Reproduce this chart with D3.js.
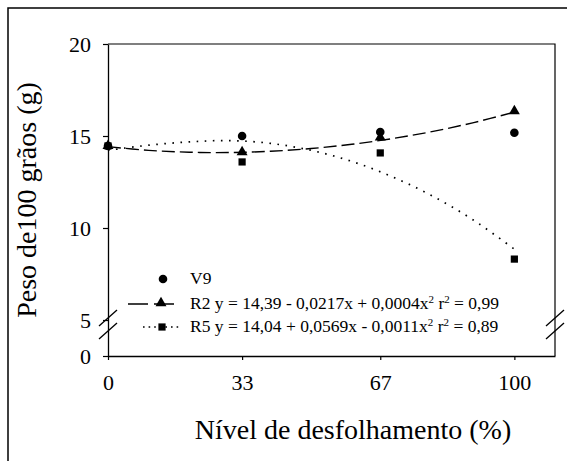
<!DOCTYPE html>
<html><head><meta charset="utf-8">
<script src="https://cdn.jsdelivr.net/npm/d3@7"></script>
</head><body style="margin:0">
<svg id="c" width="567" height="461" font-family="Liberation Serif" style="font-family:'Liberation Serif'"></svg>
<script>
// Data
const xLevels = [0, 33, 67, 100];
const v9 = [14.46, 15.0, 15.22, 15.18];
const r2 = [14.46, 14.13, 14.93, 16.36];
const r5 = [14.46, 13.59, 14.08, 8.31];
const fitX = [0, 10, 20, 30, 40, 50, 60, 70, 80, 90, 100];
const r2Fit = [14.42, 14.22, 14.12, 14.10, 14.17, 14.32, 14.55, 14.86, 15.25, 15.73, 16.30];
const r5Fit = [14.22, 14.50, 14.68, 14.75, 14.60, 14.22, 13.62, 12.78, 11.72, 10.42, 8.85];
const xTicks = [0, 33, 67, 100];
const yTicks = [0, 5, 10, 15, 20];
const legendLabels = ["V9", "R2", "R5"];

const SERIF = "Liberation Serif";
const svg = d3.select("#c");
function ft(sel, size) {
  return sel.attr("font-family", SERIF).style("font-family", SERIF)
    .attr("font-size", size).style("font-size", size + "px").attr("fill", "#000");
}
// outer frame
svg.append("rect").attr("x", 8).attr("y", 8).attr("width", 600).attr("height", 500)
  .attr("fill", "none").attr("stroke", "#000").attr("stroke-width", 1.5);

const x = d3.scaleLinear().domain([0, 110]).range([108, 555]);
const y = d3.scaleLinear().domain([0, 5, 20]).range([356, 320, 44]);

// plot frame (top and right)
svg.append("path").attr("d", `M${x(0)},${y(20)}H${x(110)}V${y(0)}`)
  .attr("fill", "none").attr("stroke", "#000").attr("stroke-width", 1.2);

// axes
const xa = svg.append("g").attr("transform", `translate(0,${y(0)})`)
  .call(d3.axisBottom(x).tickValues(xTicks).tickSize(4).tickSizeOuter(0).tickPadding(14));
const ya = svg.append("g").attr("transform", `translate(${x(0)},0)`)
  .call(d3.axisLeft(y).tickValues(yTicks).tickSize(5).tickSizeOuter(0).tickPadding(12));
[xa, ya].forEach(g => {
  g.attr("font-family", SERIF).attr("font-size", 22);
  g.select(".domain").attr("stroke", "#000").attr("stroke-width", 1.3);
  g.selectAll(".tick line").attr("stroke", "#000").attr("stroke-width", 1.2);
  ft(g.selectAll("text"), 22);
});
xa.selectAll("text").attr("dy", "0.71em");
ya.selectAll("text").attr("dy", "0.34em");

// break marks
function brk(cx) {
  [318, 331].forEach(cy => {
    svg.append("line").attr("x1", cx - 9).attr("y1", cy + 8).attr("x2", cx + 9).attr("y2", cy - 8)
      .attr("stroke", "#000").attr("stroke-width", 1.3);
  });
}
brk(x(0)); brk(x(110));

// fit curves
const line = d3.line().x(d => x(d[0])).y(d => y(d[1])).curve(d3.curveCatmullRom);
svg.append("path").attr("d", line(fitX.map((v, i) => [v, r2Fit[i]])))
  .attr("fill", "none").attr("stroke", "#000").attr("stroke-width", 1.4).attr("stroke-dasharray", "13,5");
svg.append("path").attr("d", line(fitX.map((v, i) => [v, r5Fit[i]])))
  .attr("fill", "none").attr("stroke", "#000").attr("stroke-width", 1.7).attr("stroke-dasharray", "1.6,6.5");

// markers
const sq = d3.symbol().type(d3.symbolSquare).size(52);
const tri = d3.symbol().type(d3.symbolTriangle).size(52);
svg.selectAll(".sq").data(xLevels.map((v, i) => [v, r5[i]])).join("path")
  .attr("d", sq).attr("transform", d => `translate(${x(d[0])},${y(d[1])})`).attr("fill", "#000");
svg.selectAll(".tri").data(xLevels.map((v, i) => [v, r2[i]])).join("path")
  .attr("d", tri).attr("transform", d => `translate(${x(d[0])},${y(d[1])})`).attr("fill", "#000");
svg.selectAll(".ci").data(xLevels.map((v, i) => [v, v9[i]])).join("circle")
  .attr("cx", d => x(d[0])).attr("cy", d => y(d[1])).attr("r", 4.3).attr("fill", "#000");

// legend
const lg = svg.append("g");
lg.append("circle").attr("cx", 163).attr("cy", 279).attr("r", 4.3).attr("fill", "#000");
lg.append("line").attr("x1", 128).attr("x2", 174).attr("y1", 304).attr("y2", 304)
  .attr("stroke", "#000").attr("stroke-width", 1.4).attr("stroke-dasharray", "20,6");
lg.append("path").attr("d", tri).attr("transform", "translate(161,303)").attr("fill", "#000");
lg.append("line").attr("x1", 143).attr("x2", 182).attr("y1", 327).attr("y2", 327)
  .attr("stroke", "#000").attr("stroke-width", 1.6).attr("stroke-dasharray", "1.6,4");
lg.append("path").attr("d", sq).attr("transform", "translate(162,327)").attr("fill", "#000");

function legText(yy, parts) {
  const t = ft(lg.append("text").attr("x", 190).attr("y", yy), 17.5);
  parts.forEach(p => {
    if (p.sup) ft(t.append("tspan").attr("dy", -6), 11).text(p.sup);
    else ft(t.append("tspan").attr("dy", p.down ? 6 : 0), 17.5).text(p.t);
  });
}
legText(284, [{t: legendLabels[0]}]);
legText(309, [{t: legendLabels[1] + " y = 14,39 - 0,0217x + 0,0004x"}, {sup: "2"}, {t: "  r", down: true}, {sup: "2"}, {t: " = 0,99", down: true}]);
legText(332, [{t: legendLabels[2] + " y = 14,04 + 0,0569x - 0,0011x"}, {sup: "2"}, {t: "  r", down: true}, {sup: "2"}, {t: " = 0,89", down: true}]);

// axis titles
ft(svg.append("text").attr("x", 353).attr("y", 439).attr("text-anchor", "middle"), 28)
  .text("Nível de desfolhamento (%)");
ft(svg.append("text").attr("transform", "translate(36,200) rotate(-90)").attr("text-anchor", "middle"), 28)
  .text("Peso de100 grãos (g)");
</script>
</body></html>
